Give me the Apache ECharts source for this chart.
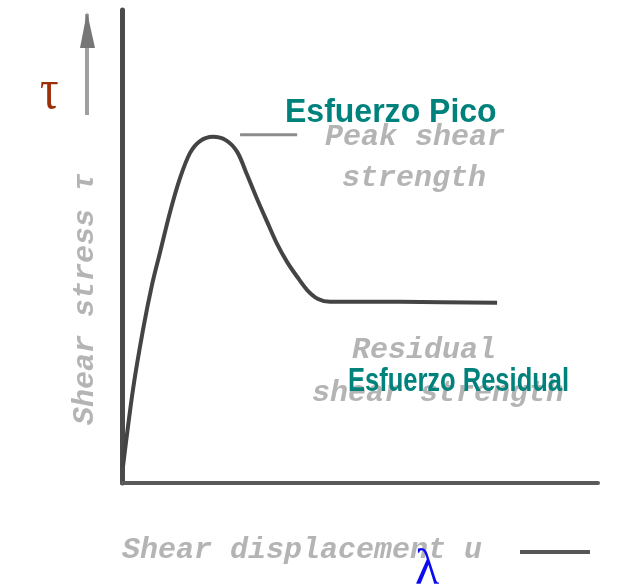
<!DOCTYPE html>
<html>
<head>
<meta charset="utf-8">
<script src="https://cdn.jsdelivr.net/npm/echarts@6/dist/echarts.min.js"></script>
<style>
html,body{margin:0;padding:0;background:#fff;}
#chart{width:640px;height:584px;}
</style>
</head>
<body>
<div id="chart"></div>
<script>
// Shear displacement (x) and shear stress (y)
var displacement = [0.2, 2.3, 4.4, 6.3, 8.0, 10.1, 12.2, 14.3, 16.4, 19.1, 21.8, 24.2, 26.3, 28.4, 30.5, 32.6, 34.7, 36.8, 38.9, 41.2, 43.7, 58.4, 78.8];
var shearStress  = [3.4, 19.7, 32.3, 41.9, 48.8, 57.3, 64.5, 69.8, 72.3, 73.2, 72.5, 70.0, 65.1, 60.0, 55.2, 50.5, 46.7, 43.6, 40.8, 38.9, 38.3, 38.3, 38.1];
// leader line from the peak to its label
var leaderX = [24.8, 36.8];
var leaderY = [73.6, 73.6];

var peakLabel = 'Esfuerzo Pico';
var residualLabel = 'Esfuerzo Residual';
var tauSymbol = 'τ';
var lambdaSymbol = 'λ';
var scanTexts = ['Peak shear', 'strength', 'Residual', 'shear strength', 'Shear displacement u', 'Shear stress τ'];

function pairs(xs, ys) { return xs.map(function (x, i) { return [x, ys[i]]; }); }

var chart = echarts.init(document.getElementById('chart'), null, {renderer: 'canvas'});
var scanFont = 'italic bold 30px "Liberation Mono"';
var scanColor = '#b4b4b4';
chart.setOption({
  animation: false,
  backgroundColor: '#ffffff',
  grid: {left: 122, right: 42, top: 10, bottom: 101},
  xAxis: {
    type: 'value', min: 0, max: 100,
    axisLine: {show: true, onZero: false, lineStyle: {color: '#5a5a5a', width: 4}},
    axisTick: {show: false}, axisLabel: {show: false}, splitLine: {show: false}
  },
  yAxis: {
    type: 'value', min: 0, max: 100,
    axisLine: {show: true, onZero: false, lineStyle: {color: '#4a4a4a', width: 5}},
    axisTick: {show: false}, axisLabel: {show: false}, splitLine: {show: false}
  },
  series: [
    {
      type: 'line', data: pairs(displacement, shearStress), smooth: 0.3,
      showSymbol: false, lineStyle: {color: '#444444', width: 4}, z: 3
    },
    {
      type: 'line', data: pairs(leaderX, leaderY),
      showSymbol: false, lineStyle: {color: '#8c8c8c', width: 3}, z: 2
    }
  ],
  graphic: [
    // faint scanned labels
    {type: 'text', x: 325, y: 122, style: {text: scanTexts[0], font: scanFont, fill: scanColor}, z: 0},
    {type: 'text', x: 342, y: 163, style: {text: scanTexts[1], font: scanFont, fill: scanColor}, z: 0},
    {type: 'text', x: 352, y: 335, style: {text: scanTexts[2], font: scanFont, fill: scanColor}, z: 0},
    {type: 'text', x: 312, y: 378, style: {text: scanTexts[3], font: scanFont, fill: scanColor}, z: 0},
    {type: 'text', x: 122, y: 535, style: {text: scanTexts[4], font: scanFont, fill: scanColor}, z: 0},
    {type: 'text', x: 70, y: 425, rotation: Math.PI / 2, style: {text: scanTexts[5], font: scanFont, fill: scanColor}, z: 0},
    // arrows of the scan
    {type: 'line', shape: {x1: 87, y1: 115, x2: 87, y2: 14}, style: {stroke: '#a0a0a0', lineWidth: 4}, z: 0},
    {type: 'polygon', shape: {points: [[87, 12], [80, 48], [95, 48]]}, style: {fill: '#777777'}, z: 0},
    {type: 'line', shape: {x1: 520, y1: 552, x2: 590, y2: 552}, style: {stroke: '#555555', lineWidth: 4}, z: 0},
    // overlay labels
    {type: 'text', x: 285, y: 96, scaleX: 0.97, originX: 0, originY: 0,
      style: {text: peakLabel, font: 'bold 33px "Liberation Sans"', fill: '#00827c'}, z: 10},
    {type: 'text', x: 348, y: 365, scaleX: 0.75, originX: 0, originY: 0,
      style: {text: residualLabel, font: 'bold 34px "Liberation Sans"', fill: '#00827c'}, z: 10},
    {type: 'text', x: 40, y: 64, scaleX: 0.8,
      style: {text: tauSymbol, font: '58px "Liberation Serif"', fill: '#9c2f08'}, z: 10},
    {type: 'text', x: 415, y: 546,
      style: {text: lambdaSymbol, font: '50px "Liberation Serif"', fill: '#0a0af5'}, z: 10}
  ]
});
</script>
</body>
</html>
